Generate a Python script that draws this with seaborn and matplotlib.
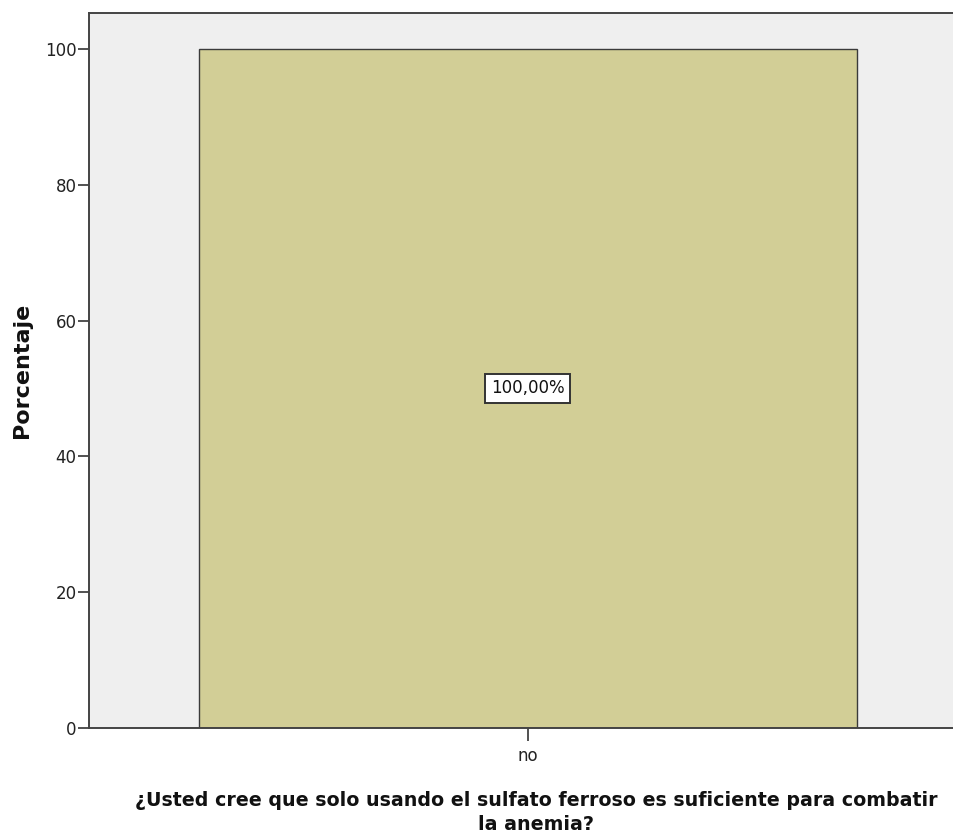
import pandas as pd
import matplotlib
matplotlib.use('Agg')
import matplotlib.pyplot as plt
from matplotlib import font_manager
import seaborn as sns

# Data
categories = ['no']
percentages = [100.0]
bar_labels = ['100,00%']
y_ticks = [0, 20, 40, 60, 80, 100]

x_title = '¿Usted cree que solo usando el sulfato ferroso es suficiente para combatir\nla anemia?'
y_title = 'Porcentaje'
top_title = 'anemia?'

installed = {f.name for f in font_manager.fontManager.ttflist}
narrow = 'Liberation Sans Narrow' if 'Liberation Sans Narrow' in installed else 'DejaVu Sans'

sns.set_theme(style='white')
plt.rcParams['font.family'] = [narrow, 'DejaVu Sans']

df = pd.DataFrame({'cat': categories, 'pct': percentages})

fig = plt.figure(figsize=(9.54, 8.39), dpi=100)
ax = fig.add_axes([89 / 954, 111 / 839, 866 / 954, 715 / 839])
ax.set_facecolor('#EFEFEF')

sns.barplot(data=df, x='cat', y='pct', ax=ax, color='#D2CE96', saturation=1,
            width=0.76, edgecolor='#3a3a3a', linewidth=1.0)

ax.set_xlim(-0.5065, 0.4935)
ax.set_ylim(0, 105.3)
ax.set_yticks(y_ticks)
ax.tick_params(axis='y', left=True, length=8, width=1.2, color='#333333',
               labelsize=12, pad=1, labelcolor='#222222')
ax.tick_params(axis='x', bottom=True, length=9, width=1.2, color='#333333',
               labelsize=12, pad=5, labelcolor='#222222')

for side in ['left', 'bottom', 'top']:
    ax.spines[side].set_color('#444444')
    ax.spines[side].set_linewidth(1.4)
ax.spines['right'].set_visible(False)

ax.set_xlabel('')
ax.set_ylabel(y_title, fontsize=16, fontweight='bold', family='DejaVu Sans',
              labelpad=9, color='#111111')

for i, (val, lab) in enumerate(zip(percentages, bar_labels)):
    ax.text(i, val / 2, lab, ha='center', va='center', fontsize=12, color='#111111',
            bbox=dict(boxstyle='square,pad=0.35', facecolor='white',
                      edgecolor='#333333', linewidth=1.4))

fig.text(536 / 954, 1 - 791 / 839, x_title, ha='center', va='top', fontsize=13.7,
         fontweight='bold', color='#111111', linespacing=1.3)
fig.text(482 / 954, 1 - 3 / 839, top_title, ha='center', va='bottom', fontsize=14,
         fontweight='bold', color='#333333')

fig.savefig('out.png', dpi=100, facecolor='white')
